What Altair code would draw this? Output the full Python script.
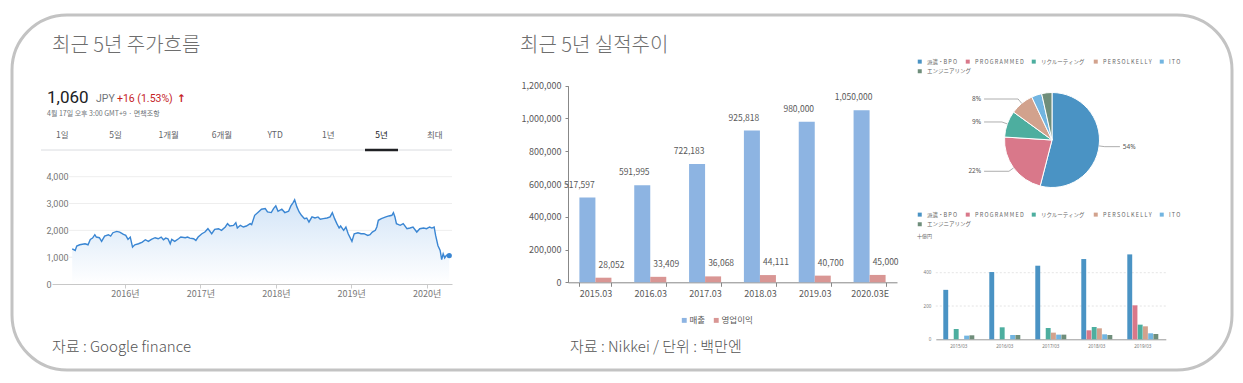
import math
import altair as alt
import pandas as pd

# ------------------------------------------------------------------ data
# 5-year share price (decimal year, JPY)
price_t = [
    2015.30, 2015.34, 2015.36, 2015.40, 2015.47, 2015.51, 2015.54, 2015.57, 2015.60, 2015.62,
    2015.66, 2015.69, 2015.73, 2015.78, 2015.81, 2015.84, 2015.89, 2015.93, 2015.98, 2016.01,
    2016.04, 2016.07, 2016.10, 2016.13, 2016.18, 2016.23, 2016.27, 2016.31, 2016.35, 2016.40,
    2016.44, 2016.48, 2016.51, 2016.54, 2016.57, 2016.60, 2016.62, 2016.66, 2016.71, 2016.74,
    2016.80, 2016.83, 2016.86, 2016.91, 2016.94, 2016.97, 2017.02, 2017.06, 2017.10, 2017.15,
    2017.19, 2017.24, 2017.28, 2017.33, 2017.36, 2017.39, 2017.44, 2017.47, 2017.49, 2017.53,
    2017.57, 2017.61, 2017.66, 2017.68, 2017.72, 2017.77, 2017.81, 2017.86, 2017.89, 2017.94,
    2017.97, 2018.00, 2018.03, 2018.08, 2018.12, 2018.17, 2018.20, 2018.23, 2018.25, 2018.28,
    2018.31, 2018.34, 2018.38, 2018.41, 2018.44, 2018.48, 2018.52, 2018.56, 2018.59, 2018.63,
    2018.68, 2018.72, 2018.75, 2018.78, 2018.81, 2018.84, 2018.86, 2018.90, 2018.93, 2018.96,
    2019.01, 2019.04, 2019.09, 2019.13, 2019.17, 2019.22, 2019.25, 2019.28, 2019.32, 2019.34,
    2019.36, 2019.40, 2019.46, 2019.50, 2019.54, 2019.56, 2019.58, 2019.60, 2019.65, 2019.69,
    2019.74, 2019.78, 2019.82, 2019.87, 2019.91, 2019.96, 2020.00, 2020.04, 2020.07, 2020.10,
    2020.12, 2020.15, 2020.18, 2020.20, 2020.22, 2020.24, 2020.26, 2020.28, 2020.30,
]
price_v = [
    1312, 1250, 1412, 1462, 1500, 1462, 1662, 1712, 1837, 1750,
    1725, 1587, 1787, 1837, 1787, 1912, 1962, 1937, 1850, 1812,
    1662, 1750, 1375, 1462, 1500, 1562, 1650, 1587, 1662, 1725,
    1687, 1750, 1650, 1712, 1687, 1500, 1662, 1587, 1687, 1750,
    1725, 1750, 1712, 1687, 1625, 1750, 1875, 1937, 2062, 1875,
    2037, 2062, 2000, 2125, 2250, 2162, 2187, 2287, 2087, 2187,
    2125, 2162, 2250, 2212, 2562, 2687, 2787, 2812, 2687, 2662,
    2812, 2912, 2712, 2787, 2662, 2712, 2912, 3037, 3137, 2875,
    2687, 2562, 2437, 2462, 2312, 2500, 2462, 2500, 2412, 2437,
    2462, 2500, 2662, 2437, 2250, 2087, 2162, 2000, 2125, 1875,
    1587, 1875, 1912, 1875, 1875, 1812, 1837, 1937, 2000, 2125,
    2375, 2437, 2500, 2537, 2562, 2662, 2500, 2250, 2187, 2250,
    2062, 2087, 2125, 1937, 2062, 2087, 2062, 2125, 2087, 2125,
    1812, 1437, 1250, 912, 1125, 975, 1062, 1087, 1060,
]
price_y_ticks = [0, 1000, 2000, 3000, 4000]
price_x_ticks = [2016, 2017, 2018, 2019, 2020]
range_tabs = ["1일", "5일", "1개월", "6개월", "YTD", "1년", "5년", "최대"]
active_tab = "5년"

# results (백만엔)
fiscal = ["2015.03", "2016.03", "2017.03", "2018.03", "2019.03", "2020.03E"]
sales = [517597, 591995, 722183, 925818, 980000, 1050000]
op_income = [28052, 33409, 36068, 44111, 40700, 45000]
perf_series = ["매출", "영업이익"]
perf_colors = ["#8DB4E2", "#D99694"]
perf_y_ticks = [0, 200000, 400000, 600000, 800000, 1000000, 1200000]

# segments
segments = ["派遣・BPO", "PROGRAMMED", "リクルーティング", "PERSOLKELLY", "ITO", "エンジニアリング"]
seg_colors = ["#4A93C4", "#D9788A", "#4DAE9F", "#D2A28D", "#72B5E1", "#6F8E7B"]
seg_share = [54, 22, 9, 8, 3.5, 3.5]
seg_years = ["2015/03", "2016/03", "2017/03", "2018/03", "2019/03"]
rev_bpo = [297, 404, 442, 482, 510]
rev_programmed = [0, 0, 0, 54, 204]
rev_recruiting = [62, 72, 68, 74, 88]
rev_persolkelly = [0, 0, 40, 66, 78]
rev_ito = [22, 26, 28, 30, 36]
rev_engineering = [24, 26, 28, 26, 32]
seg_y_ticks = [0, 200, 400]

assert len(price_t) == len(price_v)

# ------------------------------------------------------------------ layout
FX, FY = 12, 15          # frame (view) origin on the page
W, H = 1220, 355          # frame size


def cx(p):
    return p - FX


def cy(p):
    return p - FY


KR = "Noto Sans CJK KR"
JP = "Noto Sans CJK JP"
one = pd.DataFrame({"k": [0]})


def static_text(txt, x, y, size, color, font=KR, align="left", baseline="middle", weight="normal"):
    return alt.Chart(one).mark_text(
        text=txt, align=align, baseline=baseline, fontSize=size, color=color,
        font=font, fontWeight=weight,
    ).encode(x=alt.value(cx(x)), y=alt.value(cy(y)))


layers = []

# titles & notes
layers.append(static_text("최근 5년 주가흐름", 52, 46, 20, "#6e6e6e", weight=300))
layers.append(static_text("최근 5년 실적추이", 520, 46, 20, "#6e6e6e", weight=300))
layers.append(static_text("자료 : Google finance", 52, 347, 15, "#555555", weight=300))
layers.append(static_text("자료 : Nikkei / 단위 : 백만엔", 570, 347, 15, "#555555", weight=300))

# ---------------- google finance header
layers.append(static_text("1,060", 47, 102.5, 17, "#202124", font="Roboto", baseline="alphabetic"))
layers.append(static_text("JPY", 96, 102, 10.5, "#70757a", font="Roboto", baseline="alphabetic"))
layers.append(static_text("+16 (1.53%)", 117, 102, 10.5, "#c5221f", font="Roboto", baseline="alphabetic"))
layers.append(static_text("↑", 177, 102, 10.5, "#c5221f", font="DejaVu Sans", baseline="alphabetic", weight="bold"))
layers.append(static_text("4월 17일 오후 3:00 GMT+9 · 면책조항", 47, 113.5, 7, "#70757a"))

tab_df = pd.DataFrame({"tab": range_tabs})
tab_scale = alt.Scale(domain=range_tabs, range=[cx(35.7), cx(461.3)], paddingInner=0, paddingOuter=0)
layers.append(
    alt.Chart(tab_df).mark_text(fontSize=8.5, font=KR, baseline="middle").encode(
        x=alt.X("tab:N", scale=tab_scale, axis=None, sort=range_tabs),
        y=alt.value(cy(135)),
        text="tab:N",
        color=alt.condition(alt.datum.tab == active_tab, alt.value("#202124"), alt.value("#5f6368")),
    )
)
layers.append(
    alt.Chart(one).mark_rule(color="#dadce0", strokeWidth=1).encode(
        x=alt.value(cx(41)), x2=alt.value(cx(452)), y=alt.value(cy(150))
    )
)
layers.append(
    alt.Chart(pd.DataFrame({"tab": [active_tab]})).mark_bar(width=33, color="#202124").encode(
        x=alt.X("tab:N", scale=tab_scale, axis=None),
        y=alt.value(cy(148.8)), y2=alt.value(cy(151.2)),
    )
)

# ---------------- price line chart
price_df = pd.DataFrame({"t": price_t, "v": price_v})
p_x = alt.Scale(domain=[2015.032, 2020.337], range=[cx(52), cx(452)], nice=False, zero=False)
p_y = alt.Scale(domain=[0, 4000], range=[cy(284), cy(176.7)], nice=False)
LINE = "#3a86d3"

layers.append(
    alt.Chart(pd.DataFrame({"v": price_y_ticks[1:]})).mark_rule(color="#eeeeee", strokeWidth=1).encode(
        y=alt.Y("v:Q", scale=p_y, axis=None), x=alt.value(cx(68)), x2=alt.value(cx(452))
    )
)
grad = alt.Gradient(
    gradient="linear",
    stops=[alt.GradientStop(color="#ffffff", offset=0), alt.GradientStop(color="#d2e4f7", offset=1)],
    x1=1, x2=1, y1=1, y2=0,
)
layers.append(
    alt.Chart(price_df).mark_area(color=grad).encode(
        x=alt.X("t:Q", scale=p_x, axis=None), y=alt.Y("v:Q", scale=p_y, axis=None)
    )
)
layers.append(
    alt.Chart(price_df).mark_line(color=LINE, strokeWidth=1.4).encode(
        x=alt.X("t:Q", scale=p_x, axis=alt.Axis(
            orient="bottom", offset=-(H - cy(284)), values=price_x_ticks,
            labelExpr="datum.value + '년'", tickSize=4, tickColor="#cccccc",
            domainColor="#c8c8c8", labelColor="#777777", labelFontSize=9, labelFont=KR,
            labelPadding=1, grid=False, title=None,
        )),
        y=alt.Y("v:Q", scale=p_y, axis=alt.Axis(
            orient="left", offset=-cx(68), values=price_y_ticks, format=",.0f",
            labelAlign="left", labelPadding=22, domain=False, ticks=False, tickSize=0,
            grid=False, labelColor="#777777", labelFontSize=9, labelFont="Roboto", title=None,
        )),
    )
)
layers.append(
    alt.Chart(price_df.tail(1)).mark_circle(size=28, color=LINE, opacity=1).encode(
        x=alt.X("t:Q", scale=p_x, axis=None), y=alt.Y("v:Q", scale=p_y, axis=None)
    )
)

# ---------------- results bar chart
perf_df = pd.DataFrame({
    "fy": fiscal * 2,
    "series": [perf_series[0]] * len(fiscal) + [perf_series[1]] * len(fiscal),
    "val": sales + op_income,
})
b_x = alt.Scale(domain=fiscal, range=[cx(568), cx(897)], paddingInner=0.416, paddingOuter=0.208)
b_off = alt.Scale(domain=perf_series, paddingInner=0, paddingOuter=0)
b_y = alt.Scale(domain=[0, 1200000], range=[cy(282.3), cy(85.7)], nice=False)
b_col = alt.Scale(domain=perf_series, range=perf_colors)

layers.append(
    alt.Chart(perf_df).mark_bar().encode(
        x=alt.X("fy:N", scale=b_x, sort=fiscal, axis=alt.Axis(
            orient="bottom", offset=-(H - cy(282.3)), tickBand="extent", tickSize=4,
            tickColor="#888888", domainColor="#888888", labelColor="#595959",
            labelFontSize=9, labelFont=KR, labelPadding=3, labelAngle=0, grid=False, title=None,
        )),
        xOffset=alt.XOffset("series:N", scale=b_off, sort=perf_series),
        y=alt.Y("val:Q", scale=b_y, axis=alt.Axis(
            orient="left", offset=-cx(568), values=perf_y_ticks, format=",.0f", tickSize=3,
            tickColor="#888888", domainColor="#888888", labelColor="#595959",
            labelFontSize=9, labelFont=KR, labelPadding=4, grid=False, title=None,
        )),
        color=alt.Color("series:N", scale=b_col, sort=perf_series, legend=alt.Legend(
            orient="none", legendX=cx(680), legendY=cy(316), direction="horizontal",
            title=None, symbolType="square", symbolSize=24, symbolStrokeWidth=0,
            labelFontSize=8.5, labelFont=KR, labelColor="#595959", labelOffset=1,
            columnPadding=6, padding=0,
        )),
    )
)
layers.append(
    alt.Chart(perf_df).mark_text(dy=-13, fontSize=8.5, font=KR, color="#595959", baseline="middle").encode(
        x=alt.X("fy:N", scale=b_x, sort=fiscal, axis=None),
        xOffset=alt.XOffset("series:N", scale=b_off, sort=perf_series),
        y=alt.Y("val:Q", scale=b_y, axis=None),
        text=alt.Text("val:Q", format=","),
    )
)

# ---------------- segment pie
seg_col = alt.Scale(domain=segments, range=seg_colors)
seg_label_expr = (
    "test(regexp('^[A-Z]+$'), datum.label) ? join(split(datum.label, ''), ' ') : "
    "replace(datum.label, 'BPO', 'B P O')"
)


def seg_legend(x, y, vals):
    return alt.Legend(
        orient="none", legendX=cx(x), legendY=cy(y), direction="horizontal", columns=len(vals),
        values=vals, title=None, symbolType="square", symbolSize=16, symbolStrokeWidth=0,
        symbolOpacity=1, labelFontSize=5.5, labelFont=JP, labelColor="#666666", labelOffset=4.5,
        columnPadding=7, padding=0, labelExpr=seg_label_expr, labelLimit=0,
    )


ROW1, ROW2 = segments[:5], segments[5:]

PCX, PCY, PR = 1052, 140, 47.5
pie_df = pd.DataFrame({"seg": segments, "share": seg_share, "idx": list(range(len(segments)))})


def pie_layer(vals, ly, opacity):
    return alt.Chart(pie_df).mark_arc(outerRadius=PR, stroke="white", strokeWidth=1, opacity=opacity).encode(
        theta=alt.Theta("share:Q", stack=True),
        order=alt.Order("idx:Q"),
        color=alt.Color("seg:N", scale=seg_col, sort=segments, legend=seg_legend(917, ly, vals)),
        x=alt.value(cx(PCX)), y=alt.value(cy(PCY)),
    )


layers.append(pie_layer(ROW2, 68.5, 0))      # carries only the second legend row
layers.append(pie_layer(ROW1, 58.5, 1))

# leader lines / labels derived from the shares (pie-local units, radius = 1)
lead_rows, lab_rows = [], []
cum = 0.0
for s, v in zip(segments, seg_share):
    if v >= 5:
        a = 2 * math.pi * (cum + v / 2) / 100
        sx, sy = math.sin(a), math.cos(a)
        side = 1 if sx > 0 else -1
        ex, ey = 1.12 * sx, 1.12 * sy
        lead_rows += [
            {"seg": s, "k": 0, "u": sx, "w": sy},
            {"seg": s, "k": 1, "u": ex, "w": ey},
            {"seg": s, "k": 2, "u": 1.43 * side, "w": ey},
        ]
        lab_rows.append({"seg": s, "u": 1.49 * side, "w": ey, "txt": f"{v:g}%", "side": side})
    cum += v
lead_df = pd.DataFrame(lead_rows)
lab_df = pd.DataFrame(lab_rows)
u_sc = alt.Scale(domain=[-1, 1], range=[cx(PCX - PR), cx(PCX + PR)], nice=False, zero=False)
w_sc = alt.Scale(domain=[-1, 1], range=[cy(PCY + PR), cy(PCY - PR)], nice=False, zero=False)
layers.append(
    alt.Chart(lead_df).mark_line(color="#999999", strokeWidth=0.8).encode(
        x=alt.X("u:Q", scale=u_sc, axis=None), y=alt.Y("w:Q", scale=w_sc, axis=None),
        detail="seg:N", order="k:Q",
    )
)
for side, align in [(1, "left"), (-1, "right")]:
    layers.append(
        alt.Chart(lab_df[lab_df["side"] == side]).mark_text(
            align=align, baseline="middle", fontSize=6.5, font="Noto Sans", color="#555555"
        ).encode(
            x=alt.X("u:Q", scale=u_sc, axis=None), y=alt.Y("w:Q", scale=w_sc, axis=None), text="txt:N"
        )
    )

# ---------------- segment grouped bars
seg_rev = [rev_bpo, rev_programmed, rev_recruiting, rev_persolkelly, rev_ito, rev_engineering]
seg_long = pd.DataFrame([
    {"yr": y, "seg": s, "val": vals[i]}
    for s, vals in zip(segments, seg_rev)
    for i, y in enumerate(seg_years)
])
g_x = alt.Scale(domain=seg_years, range=[cx(935.8), cx(1165.8)], paddingInner=0.326, paddingOuter=0.163)
g_off = alt.Scale(domain=segments, paddingInner=0.06, paddingOuter=0)
g_y = alt.Scale(domain=[0, 600], range=[cy(339.3), cy(239.4)], nice=False)

layers.append(
    alt.Chart(pd.DataFrame({"v": seg_y_ticks[1:]})).mark_rule(
        color="#dddddd", strokeWidth=0.8, strokeDash=[2, 2]
    ).encode(y=alt.Y("v:Q", scale=g_y, axis=None), x=alt.value(cx(935.8)), x2=alt.value(cx(1165.8)))
)
layers.append(
    alt.Chart(seg_long).mark_bar(opacity=0).encode(
        x=alt.X("yr:N", scale=g_x, sort=seg_years, axis=None),
        xOffset=alt.XOffset("seg:N", scale=g_off, sort=segments),
        y=alt.Y("val:Q", scale=g_y, axis=None),
        color=alt.Color("seg:N", scale=seg_col, sort=segments, legend=seg_legend(917, 221.5, ROW2)),
    )
)
layers.append(
    alt.Chart(seg_long).mark_bar().encode(
        x=alt.X("yr:N", scale=g_x, sort=seg_years, axis=alt.Axis(
            orient="bottom", offset=-(H - cy(339.3)), ticks=False, tickSize=0,
            domainColor="#999999", labelColor="#777777", labelFontSize=4.5, labelFont="Noto Sans",
            labelPadding=4, labelAngle=0, grid=False, title=None,
        )),
        xOffset=alt.XOffset("seg:N", scale=g_off, sort=segments),
        y=alt.Y("val:Q", scale=g_y, axis=alt.Axis(
            orient="left", offset=-cx(935.8), values=seg_y_ticks, ticks=False, tickSize=0,
            domain=False, labelColor="#777777", labelFontSize=4.5, labelFont="Noto Sans",
            labelPadding=5, grid=False, title=None,
        )),
        color=alt.Color("seg:N", scale=seg_col, sort=segments, legend=seg_legend(917, 211.5, ROW1)),
    )
)
layers.append(static_text("十億円", 917, 236, 5, "#666666", font=JP))

chart = (
    alt.layer(*layers)
    .resolve_scale(x="independent", y="independent", color="independent",
                   xOffset="independent", theta="independent")
    .resolve_axis(x="independent", y="independent")
    .resolve_legend(color="independent")
    .properties(
        width=W, height=H,
        padding={"left": FX - 8, "top": FY - 8, "right": 3, "bottom": 5},
        autosize=alt.AutoSizeParams(type="none"),
        background="white",
    )
    .configure_view(stroke="#c3c3c3", strokeWidth=3, cornerRadius=55, fill="white")
)

chart.save("out.html", embed_options={"renderer": "svg", "actions": False})
